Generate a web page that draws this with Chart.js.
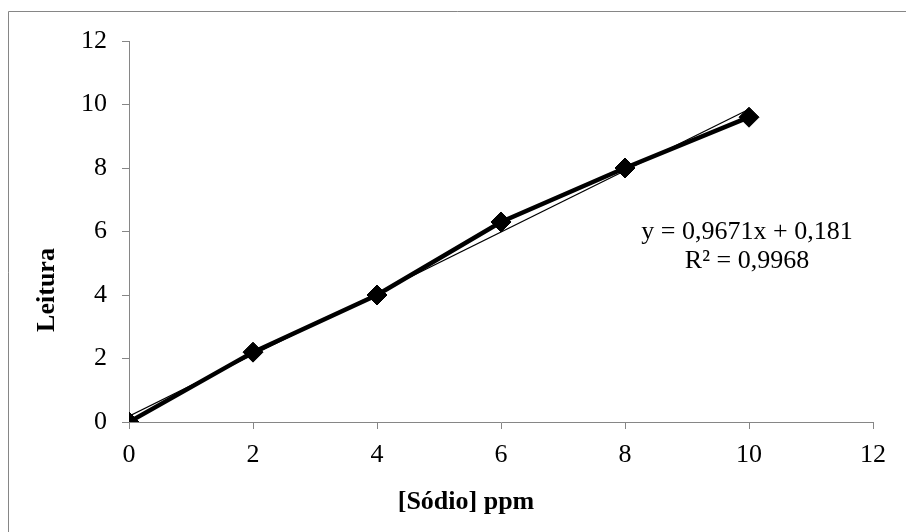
<!DOCTYPE html>
<html>
<head>
<meta charset="utf-8">
<script src="https://cdn.jsdelivr.net/npm/chart.js@4.4.1/dist/chart.umd.min.js"></script>
<style>
html,body{margin:0;padding:0;background:#fff;}
#wrap{width:906px;height:532px;position:relative;}
</style>
</head>
<body>
<div id="wrap"><canvas id="c" width="906" height="532"></canvas></div>
<script>
const xValues = [0, 2, 4, 6, 8, 10];
const yValues = [0, 2.2, 4, 6.3, 8, 9.6];
const trendSlope = 0.9671;
const trendIntercept = 0.181;
const trendX = [0, 10];
const xTitle = '[Sódio] ppm';
const yTitle = 'Leitura';
const eqLines = ['y = 0,9671x + 0,181', 'R² = 0,9968'];

const seriesData = xValues.map((x, i) => ({x: x, y: yValues[i]}));
const trendData = trendX.map(x => ({x: x, y: trendSlope * x + trendIntercept}));

const FONT = "'Liberation Serif', 'Times New Roman', serif";
const FS = 26;

const decor = {
  id: 'decor',
  beforeDraw(chart) {
    const ctx = chart.ctx;
    ctx.save();
    ctx.fillStyle = '#fff';
    ctx.fillRect(0, 0, chart.width, chart.height);
    ctx.strokeStyle = '#868686';
    ctx.lineWidth = 1;
    ctx.beginPath();
    ctx.moveTo(8.5, 540);
    ctx.lineTo(8.5, 11.5);
    ctx.lineTo(920, 11.5);
    ctx.stroke();
    ctx.restore();
  },
  afterDraw(chart) {
    const ctx = chart.ctx;
    ctx.save();
    ctx.fillStyle = '#000';
    ctx.font = 'bold ' + FS + 'px ' + FONT;
    ctx.textAlign = 'center';
    ctx.textBaseline = 'middle';
    ctx.fillText(xTitle, 466, 502);
    ctx.translate(47, 290);
    ctx.rotate(-Math.PI / 2);
    ctx.fillText(yTitle, 0, 0);
    ctx.restore();
    ctx.save();
    ctx.fillStyle = '#000';
    ctx.font = FS + 'px ' + FONT;
    ctx.textAlign = 'center';
    ctx.textBaseline = 'middle';
    ctx.fillText(eqLines[0], 747, 232);
    ctx.fillText(eqLines[1], 747, 261);
    ctx.restore();
  }
};

new Chart(document.getElementById('c'), {
  type: 'scatter',
  data: {
    datasets: [
      {
        label: 'Leitura',
        data: seriesData,
        showLine: true,
        borderColor: '#000',
        backgroundColor: '#000',
        borderWidth: 4.5,
        pointStyle: 'rectRot',
        pointRadius: 10,
        pointHoverRadius: 10,
        pointBackgroundColor: '#000',
        pointBorderColor: '#000',
        pointBorderWidth: 1,
        order: 1
      },
      {
        label: 'Linear',
        data: trendData,
        showLine: true,
        borderColor: '#000',
        borderWidth: 1.2,
        pointRadius: 0,
        order: 2
      }
    ]
  },
  options: {
    responsive: false,
    animation: false,
    devicePixelRatio: 1,
    layout: { padding: { left: 0, right: 33, top: 41, bottom: 0 } },
    plugins: { legend: { display: false }, tooltip: { enabled: false } },
    scales: {
      x: {
        type: 'linear',
        min: 0, max: 12,
        ticks: { stepSize: 2, color: '#000', font: { family: FONT, size: FS }, padding: 11, maxRotation: 0 },
        grid: { drawOnChartArea: false, drawTicks: true, tickLength: 7, color: '#868686', lineWidth: 1 },
        border: { color: '#868686', width: 1 },
        afterFit(s) { s.height = 110; }
      },
      y: {
        type: 'linear',
        min: 0, max: 12,
        ticks: { stepSize: 2, color: '#000', font: { family: FONT, size: FS }, padding: 15 },
        grid: { drawOnChartArea: false, drawTicks: true, tickLength: 7, color: '#868686', lineWidth: 1 },
        border: { color: '#868686', width: 1 },
        afterFit(s) { s.width = 129; }
      }
    }
  },
  plugins: [decor]
});
</script>
</body>
</html>
